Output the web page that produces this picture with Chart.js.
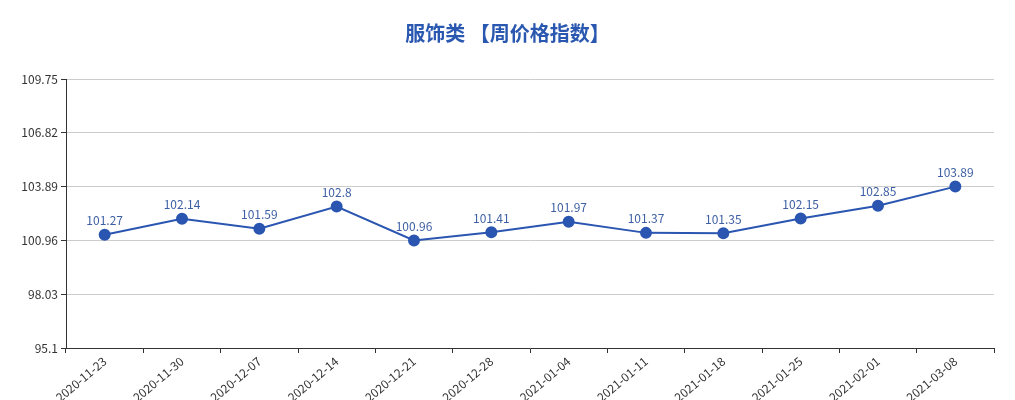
<!DOCTYPE html>
<html>
<head>
<meta charset="utf-8">
<script src="https://cdn.jsdelivr.net/npm/chart.js@4/dist/chart.umd.min.js"></script>
<style>
  html, body { margin: 0; padding: 0; background: #fff; }
  #wrap { width: 1015px; height: 400px; }
</style>
</head>
<body>
<div id="wrap"><canvas id="price-chart"></canvas></div>
<script>
// Chart data
var weeks = ["2020-11-23", "2020-11-30", "2020-12-07", "2020-12-14", "2020-12-21", "2020-12-28",
             "2021-01-04", "2021-01-11", "2021-01-18", "2021-01-25", "2021-02-01", "2021-03-08"];
var indexValues = [101.27, 102.14, 101.59, 102.8, 100.96, 101.41, 101.97, 101.37, 101.35, 102.15, 102.85, 103.89];
var yTicks = [95.1, 98.03, 100.96, 103.89, 106.82, 109.75];

var FONT = "'Microsoft YaHei', 'Noto Sans CJK SC', sans-serif";

// value labels above each point
var valueLabels = {
    id: 'valueLabels',
    afterDatasetsDraw: function (chart) {
        var ctx = chart.ctx;
        var meta = chart.getDatasetMeta(0);
        ctx.save();
        ctx.font = "12px " + FONT;
        ctx.fillStyle = '#3d5fa3';
        ctx.textAlign = 'center';
        ctx.textBaseline = 'bottom';
        meta.data.forEach(function (pt, i) {
            ctx.fillText(String(indexValues[i]), pt.x, pt.y - 8);
        });
        ctx.restore();
    }
};

var ctx = document.getElementById('price-chart');

var config = {
    type: 'line',
    data: {
        labels: weeks,
        datasets: [{
            label: '服饰类',
            data: indexValues,
            borderColor: '#2a55b0',
            backgroundColor: '#2a55b0',
            borderWidth: 2,
            pointRadius: 5,
            pointHoverRadius: 5,
            tension: 0
        }]
    },
    options: {
        responsive: true,
        maintainAspectRatio: false,
        animation: false,
        layout: { padding: 0 },
        plugins: {
            legend: { display: false },
            tooltip: { enabled: false },
            title: {
                display: true,
                text: '服饰类 【周价格指数】',
                color: '#2a58b0',
                font: { family: FONT, size: 20, weight: 'bold' },
                padding: { top: 21, bottom: 34 }
            }
        },
        scales: {
            x: {
                offset: true,
                grid: {
                    display: true,
                    offset: true,
                    drawOnChartArea: false,
                    drawTicks: true,
                    tickLength: 5,
                    color: '#333'
                },
                border: { color: '#333', width: 1 },
                ticks: {
                    color: '#333',
                    font: { family: FONT, size: 12 },
                    minRotation: 40,
                    maxRotation: 40,
                    autoSkip: false,
                    padding: 1
                },
                afterFit: function (scale) { scale.height = 52; }
            },
            y: {
                min: 95.1,
                max: 109.75,
                afterBuildTicks: function (scale) {
                    scale.ticks = yTicks.map(function (v) { return { value: v }; });
                },
                grid: {
                    color: function (c) { return c.index === 0 ? 'rgba(0,0,0,0)' : '#ccc'; },
                    tickLength: 5,
                    tickColor: '#333'
                },
                border: { color: '#333', width: 1 },
                ticks: {
                    color: '#333',
                    font: { family: FONT, size: 12 },
                    padding: 3,
                    callback: function (v) { return String(v); }
                },
                afterFit: function (scale) { scale.width = 66; }
            },
            // empty right-hand margin so the title stays centred on the page
            yRight: {
                position: 'right',
                display: true,
                grid: { display: false, drawTicks: false },
                border: { display: false },
                ticks: { display: false },
                afterFit: function (scale) { scale.width = 21; }
            }
        }
    },
    plugins: [valueLabels]
};

// Create the chart
var priceChart = new Chart(ctx, config);
</script>
</body>
</html>
